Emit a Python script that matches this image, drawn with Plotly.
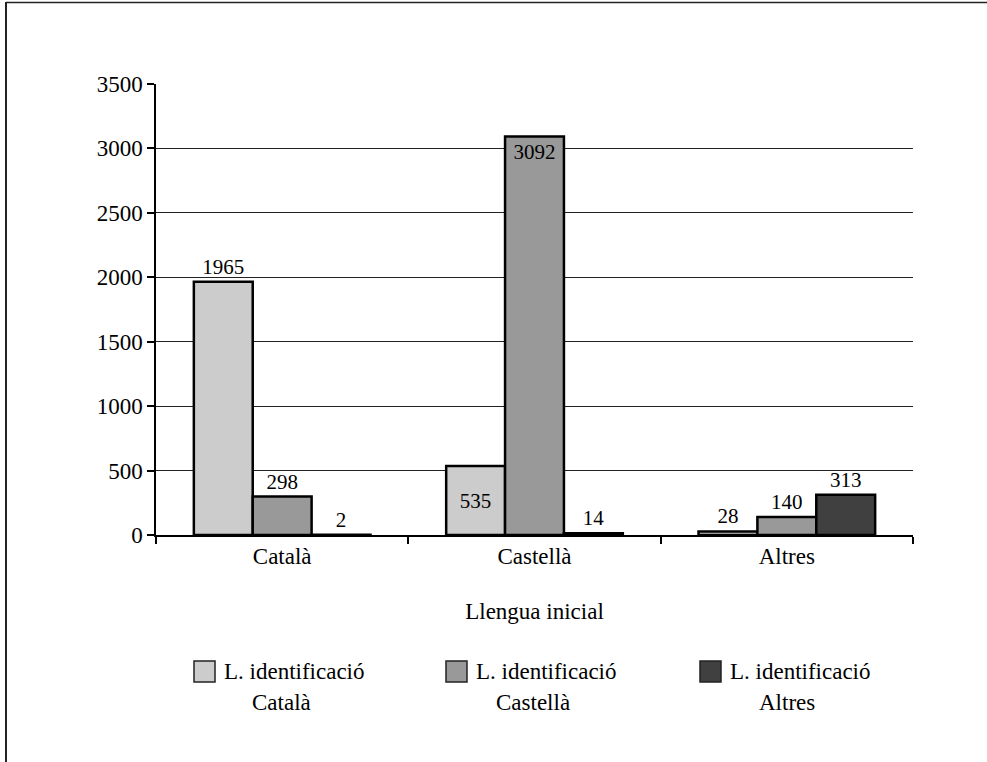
import plotly.graph_objects as go

# Categories (initial language) and series (identification language)
categories = ["Català", "Castellà", "Altres"]
series_names = ["L. identificació Català", "L. identificació Castellà", "L. identificació Altres"]
legend_line1 = ["L. identificació", "L. identificació", "L. identificació"]
legend_line2 = ["Català", "Castellà", "Altres"]

ident_catala = [1965, 535, 28]
ident_castella = [298, 3092, 140]
ident_altres = [2, 14, 313]

series_values = [ident_catala, ident_castella, ident_altres]
colors = ["#cccccc", "#999999", "#404040"]
text_positions = [
    ["outside", "inside", "outside"],
    ["outside", "inside", "outside"],
    ["outside", "outside", "outside"],
]
inside_anchor = ["middle", "end", "end"]

y_ticks = [0, 500, 1000, 1500, 2000, 2500, 3000, 3500]

FONT = "Liberation Serif, Times New Roman, serif"
W, H = 987, 762
ML, MR, MT, MB = 156, 74, 84, 227
PW, PH = W - ML - MR, H - MT - MB


def px_x(px):
    return (px - ML) / PW


def px_y(py):
    return (H - MB - py) / PH


fig = go.Figure()
for name, vals, col, tp, anc in zip(series_names, series_values, colors, text_positions, inside_anchor):
    fig.add_trace(go.Bar(
        name=name,
        x=categories,
        y=vals,
        marker=dict(color=col, line=dict(color="black", width=2.5)),
        text=[str(v) for v in vals],
        textposition=tp,
        insidetextanchor=anc,
        textfont=dict(family=FONT, size=21, color="black"),
        insidetextfont=dict(family=FONT, size=21, color="black"),
        outsidetextfont=dict(family=FONT, size=21, color="black"),
        constraintext="none",
        cliponaxis=False,
        showlegend=False,
    ))

shapes = [
    # outer frame (left and top edges)
    dict(type="line", xref="paper", yref="paper", x0=px_x(6), x1=px_x(6), y0=px_y(2), y1=px_y(H + 5),
         line=dict(color="#222222", width=2)),
    dict(type="line", xref="paper", yref="paper", x0=px_x(6), x1=px_x(W + 5), y0=px_y(2.5), y1=px_y(2.5),
         line=dict(color="#222222", width=1.5)),
]
annotations = []

# legend: swatch + two-line label for each series
sw_x = [194, 446, 700]
for i, col in enumerate(colors):
    x0 = sw_x[i]
    shapes.append(dict(type="rect", xref="paper", yref="paper",
                       x0=px_x(x0), x1=px_x(x0 + 21), y0=px_y(682), y1=px_y(661),
                       fillcolor=col, line=dict(color="#222222", width=1.5)))
    annotations.append(dict(xref="paper", yref="paper", x=px_x(x0 + 28), y=px_y(671),
                            xanchor="left", yanchor="middle", showarrow=False,
                            text=legend_line1[i], font=dict(family=FONT, size=23, color="black")))
    annotations.append(dict(xref="paper", yref="paper", x=px_x(x0 + 87), y=px_y(702),
                            xanchor="center", yanchor="middle", showarrow=False,
                            text=legend_line2[i], font=dict(family=FONT, size=23, color="black")))

fig.update_layout(
    width=W, height=H, autosize=False,
    margin=dict(l=ML, r=MR, t=MT, b=MB),
    paper_bgcolor="white", plot_bgcolor="white",
    barmode="group", bargap=0.3, bargroupgap=0,
    font=dict(family=FONT, size=23, color="black"),
    shapes=shapes, annotations=annotations,
    xaxis=dict(
        type="category",
        showline=True, linecolor="black", linewidth=1.5,
        ticks="outside", tickson="boundaries", ticklen=7, tickcolor="black", tickwidth=1.5,
        showgrid=False,
        tickfont=dict(family=FONT, size=23, color="black"),
        title=dict(text="Llengua inicial", font=dict(family=FONT, size=23, color="black"), standoff=35),
    ),
    yaxis=dict(
        range=[0, 3500], tickvals=y_ticks,
        showline=True, linecolor="black", linewidth=1.5,
        ticks="outside", ticklen=7, tickcolor="black", tickwidth=1.5,
        showgrid=True, gridcolor="#222222", gridwidth=1,
        zeroline=False,
        tickfont=dict(family=FONT, size=23, color="black"),
    ),
)

fig.write_html("out.html")
